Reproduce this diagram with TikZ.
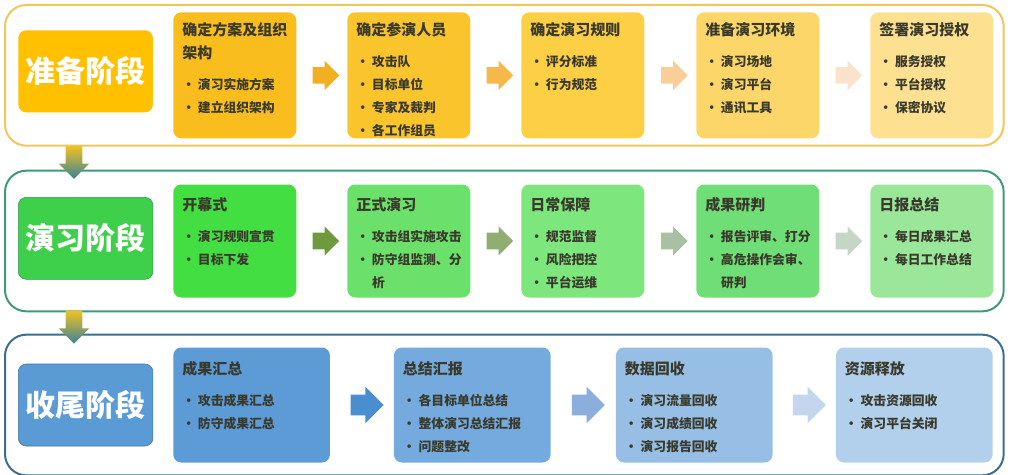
\documentclass[tikz,border=0pt]{standalone}
\usepackage{fontspec}
\usetikzlibrary{calc}
\usetikzlibrary{shapes,arrows,positioning}
\newfontfamily\cjk{Noto Sans CJK SC}
\newcommand{\headsize}{\fontsize{11.25pt}{17.25pt}\selectfont}

\definecolor{textdark}{HTML}{3A3A2C}
\definecolor{prepline}{HTML}{EEC85A}
\definecolor{exerline}{HTML}{3E9A78}
\definecolor{closeline}{HTML}{3B6E8F}
\definecolor{prepfill}{HTML}{FFC000}
\definecolor{exerfill}{HTML}{3ECF4B}
\definecolor{exerdraw}{HTML}{2F9A55}
\definecolor{closefill}{HTML}{5B9BD5}
\definecolor{closedraw}{HTML}{41719C}
% cards
\definecolor{y1}{HTML}{F9BE1E}
\definecolor{y2}{HTML}{FAC42C}
\definecolor{y3}{HTML}{FCCF45}
\definecolor{y4}{HTML}{FDD66A}
\definecolor{y5}{HTML}{FEE190}
\definecolor{g1}{HTML}{42DE42}
\definecolor{g2}{HTML}{6BE06B}
\definecolor{g3}{HTML}{7DE67D}
\definecolor{g4}{HTML}{70DE76}
\definecolor{g5}{HTML}{9AE79A}
\definecolor{b1}{HTML}{5C9BD6}
\definecolor{b2}{HTML}{74AADD}
\definecolor{b3}{HTML}{97BEE5}
\definecolor{b4}{HTML}{B2CFEB}
% arrows
\definecolor{ya1}{HTML}{F2AF22}
\definecolor{ya2}{HTML}{F6B84A}
\definecolor{ya3}{HTML}{F9CF97}
\definecolor{ya4}{HTML}{FAE2CC}
\definecolor{ga1}{HTML}{6E9A3D}
\definecolor{ga2}{HTML}{8FAE72}
\definecolor{ga3}{HTML}{A8C1A3}
\definecolor{ga4}{HTML}{C5D6C4}
\definecolor{ba1}{HTML}{4A8ED0}
\definecolor{ba2}{HTML}{8BAEDA}
\definecolor{ba3}{HTML}{C3D6EE}
\definecolor{downtop}{HTML}{F2C224}
\definecolor{downmid}{HTML}{A8D8A0}
\definecolor{downbot}{HTML}{3A8296}

\tikzstyle{frame} = [rectangle, rounded corners=16pt, line width=1.5pt, minimum width=749pt, minimum height=105.5pt, inner sep=0pt]
\tikzstyle{stage} = [rectangle, rounded corners=6pt, minimum width=101pt, minimum height=61.5pt, inner sep=0pt, text=white, font=\cjk\bfseries\fontsize{22.5pt}{27pt}\selectfont]
\tikzstyle{card} = [rectangle, rounded corners=6pt, minimum width=92.25pt, minimum height=94.5pt, inner sep=0pt]
\tikzstyle{wide} = [minimum width=117.5pt]
\tikzstyle{txt} = [align=left, inner sep=0pt, text=textdark, font=\cjk\bfseries\fontsize{9.6pt}{17.25pt}\selectfont]
\tikzstyle{flow} = [single arrow, minimum height=20pt, single arrow head extend=4.75pt, inner xsep=0pt, inner ysep=6pt]
\tikzstyle{bigflow} = [single arrow, minimum height=24.75pt, single arrow head extend=6pt, inner xsep=0pt, inner ysep=7.5pt]
\tikzstyle{down} = [single arrow, shape border rotate=270, minimum height=24.75pt, single arrow head extend=5.25pt, inner sep=6pt, top color=downtop, middle color=downmid, bottom color=downbot]

\begin{document}
\begin{tikzpicture}[node distance=38.25pt]
    \useasboundingbox (0,0) rectangle (759pt,-355.5pt);

    % frames
    \node(prepframe)[frame, draw=prepline, anchor=north west] at (3pt,-3pt) {};
    \node(exerframe)[frame, draw=exerline, below=17.25pt of prepframe] {};
    \node(closeframe)[frame, draw=closeline, below=16pt of exerframe] {};

    \node(prep)[stage, fill=prepfill, right=10.5pt of prepframe.west, yshift=3pt]{准备阶段};
    \node(exer)[stage, fill=exerfill, draw=exerdraw, right=10.5pt of exerframe.west, yshift=2pt]{演习阶段};
    \node(close)[stage, fill=closefill, draw=closedraw, right=10.5pt of closeframe.west]{收尾阶段};

    % Stage 1 nodes
    \node(plan)[card, fill=y1, right=126.75pt of prepframe.west]{};
    \node(staff)[card, fill=y2, right of=plan, node distance=130.5pt]{};
    \node(rules)[card, fill=y3, right of=staff, node distance=130.5pt]{};
    \node(env)[card, fill=y4, right of=rules, node distance=131.25pt]{};
    \node(auth)[card, fill=y5, right of=env, node distance=130.5pt]{};

    \node(plantxt)[txt, below right=7.75pt and 6.75pt of plan.north west]{\headsize 确定方案及组织\\\headsize 架构\\[6pt]• 演习实施方案\\• 建立组织架构};
    \node(stafftxt)[txt, below right=7.75pt and 6.75pt of staff.north west]{\headsize 确定参演人员\\[6pt]• 攻击队\\• 目标单位\\• 专家及裁判\\• 各工作组员};
    \node(rulestxt)[txt, below right=7.75pt and 6.75pt of rules.north west]{\headsize 确定演习规则\\[6pt]• 评分标准\\• 行为规范};
    \node(envtxt)[txt, below right=7.75pt and 6.75pt of env.north west]{\headsize 准备演习环境\\[6pt]• 演习场地\\• 演习平台\\• 通讯工具};
    \node(authtxt)[txt, below right=7.75pt and 6.75pt of auth.north west]{\headsize 签署演习授权\\[6pt]• 服务授权\\• 平台授权\\• 保密协议};

    \node(a1)[flow, fill=ya1] at ($(plan.east)!0.5!(staff.west)$) {};
    \node(a2)[flow, fill=ya2] at ($(staff.east)!0.5!(rules.west)$) {};
    \node(a3)[flow, fill=ya3] at ($(rules.east)!0.5!(env.west)$) {};
    \node(a4)[flow, fill=ya4] at ($(env.east)!0.5!(auth.west)$) {};

    % Stage 2 nodes
    \node(open)[card, minimum height=84.75pt, fill=g1, right=126.75pt of exerframe.west]{};
    \node(formal)[card, minimum height=84.75pt, fill=g2, right of=open, node distance=130.5pt]{};
    \node(guard)[card, minimum height=84.75pt, fill=g3, right of=formal, node distance=130.5pt]{};
    \node(judge)[card, minimum height=84.75pt, fill=g4, right of=guard, node distance=131.25pt]{};
    \node(daily)[card, minimum height=84.75pt, fill=g5, right of=judge, node distance=130.5pt]{};

    \node(opentxt)[txt, below right=9.75pt and 6.75pt of open.north west]{\headsize 开幕式\\[6pt]• 演习规则宣贯\\• 目标下发};
    \node(formaltxt)[txt, below right=9.75pt and 6.75pt of formal.north west]{\headsize 正式演习\\[6pt]• 攻击组实施攻击\\• 防守组监测、分\\\phantom{• }析};
    \node(guardtxt)[txt, below right=9.75pt and 6.75pt of guard.north west]{\headsize 日常保障\\[6pt]• 规范监督\\• 风险把控\\• 平台运维};
    \node(judgetxt)[txt, below right=9.75pt and 6.75pt of judge.north west]{\headsize 成果研判\\[6pt]• 报告评审、打分\\• 高危操作会审、\\\phantom{• }研判};
    \node(dailytxt)[txt, below right=9.75pt and 6.75pt of daily.north west]{\headsize 日报总结\\[6pt]• 每日成果汇总\\• 每日工作总结};

    \node(b1)[flow, fill=ga1] at ($(open.east)!0.5!(formal.west)$) {};
    \node(b2)[flow, fill=ga2] at ($(formal.east)!0.5!(guard.west)$) {};
    \node(b3)[flow, fill=ga3] at ($(guard.east)!0.5!(judge.west)$) {};
    \node(b4)[flow, fill=ga4] at ($(judge.east)!0.5!(daily.west)$) {};

    % Stage 3 nodes
    \node(sum)[card, wide, minimum height=86.25pt, fill=b1, right=126.75pt of closeframe.west]{};
    \node(report)[card, wide, minimum height=86.25pt, fill=b2, right of=sum, node distance=165.5pt]{};
    \node(data)[card, wide, minimum height=86.25pt, fill=b3, right of=report, node distance=166.5pt]{};
    \node(release)[card, wide, minimum height=86.25pt, fill=b4, right of=data, node distance=165pt]{};

    \node(sumtxt)[txt, below right=10.75pt and 6.75pt of sum.north west]{\headsize 成果汇总\\[6pt]• 攻击成果汇总\\• 防守成果汇总};
    \node(reporttxt)[txt, below right=10.75pt and 6.75pt of report.north west]{\headsize 总结汇报\\[6pt]• 各目标单位总结\\• 整体演习总结汇报\\• 问题整改};
    \node(datatxt)[txt, below right=10.75pt and 6.75pt of data.north west]{\headsize 数据回收\\[6pt]• 演习流量回收\\• 演习成绩回收\\• 演习报告回收};
    \node(releasetxt)[txt, below right=10.75pt and 6.75pt of release.north west]{\headsize 资源释放\\[6pt]• 攻击资源回收\\• 演习平台关闭};

    \node(c1)[bigflow, fill=ba1] at ($(sum.east)!0.5!(report.west)$) {};
    \node(c2)[bigflow, fill=ba2] at ($(report.east)!0.5!(data.west)$) {};
    \node(c3)[bigflow, fill=ba3] at ($(data.east)!0.5!(release.west)$) {};

    % between stages
    \node(d1)[down] at ($($(prepframe.south west)!0.5!(exerframe.north west)$)+(52.5pt,0)$) {};
    \node(d2)[down] at ($($(exerframe.south west)!0.5!(closeframe.north west)$)+(52.5pt,0)$) {};

\end{tikzpicture}
\end{document}
